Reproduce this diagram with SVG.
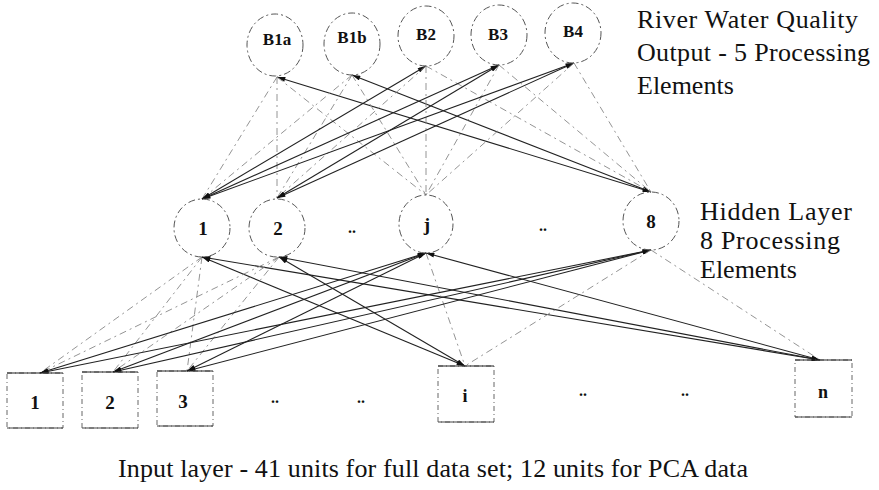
<svg xmlns="http://www.w3.org/2000/svg" width="879" height="490" viewBox="0 0 879 490">
<defs>
<marker id="ah" viewBox="0 0 10 6" refX="10" refY="3" markerWidth="9" markerHeight="5" markerUnits="userSpaceOnUse" orient="auto-start-reverse">
<path d="M0,0 L10,3 L0,6 z" fill="#111"/>
</marker>
<style>
.bg{fill:#fff}
.node{fill:none;stroke:#555;stroke-width:1;stroke-dasharray:7 3 2 3}
.box{fill:none;stroke:#666;stroke-width:1;stroke-dasharray:5 3 1 3}
.edge{stroke:#222;stroke-width:1.1;fill:none}
.solid{marker-start:url(#ah);marker-end:url(#ah)}
.dash{stroke:#888;stroke-width:0.9;stroke-dasharray:7 4 2 4}
.lbl{font-family:"Liberation Serif","Times New Roman",serif;font-size:26px;fill:#111}
.nt{font-family:"Liberation Serif","Times New Roman",serif;font-weight:bold;fill:#111;text-anchor:middle}
</style>
</defs>
<rect class="bg" x="0" y="0" width="879" height="490"/>
<g id="connectors">
<line class="edge solid" x1="277" y1="77" x2="651" y2="192"/>
<line class="edge solid" x1="352" y1="75" x2="651" y2="192"/>
<line class="edge dash" x1="277" y1="77" x2="202" y2="199"/>
<line class="edge dash" x1="277" y1="77" x2="277" y2="198"/>
<line class="edge dash" x1="277" y1="77" x2="426" y2="195"/>
<line class="edge dash" x1="352" y1="75" x2="202" y2="199"/>
<line class="edge dash" x1="352" y1="75" x2="277" y2="198"/>
<line class="edge dash" x1="352" y1="75" x2="426" y2="195"/>
<line class="edge solid" x1="426" y1="66" x2="202" y2="199"/>
<line class="edge dash" x1="426" y1="66" x2="277" y2="198"/>
<line class="edge dash" x1="426" y1="66" x2="426" y2="195"/>
<line class="edge dash" x1="426" y1="66" x2="651" y2="192"/>
<line class="edge solid" x1="499" y1="65" x2="202" y2="199"/>
<line class="edge solid" x1="499" y1="65" x2="277" y2="198"/>
<line class="edge dash" x1="499" y1="65" x2="426" y2="195"/>
<line class="edge dash" x1="499" y1="65" x2="651" y2="192"/>
<line class="edge solid" x1="574" y1="63" x2="202" y2="199"/>
<line class="edge solid" x1="574" y1="63" x2="277" y2="198"/>
<line class="edge dash" x1="574" y1="63" x2="426" y2="195"/>
<line class="edge dash" x1="574" y1="63" x2="651" y2="192"/>
<line class="edge dash" x1="202" y1="257" x2="40" y2="373"/>
<line class="edge dash" x1="202" y1="257" x2="113" y2="372"/>
<line class="edge dash" x1="202" y1="257" x2="187" y2="371"/>
<line class="edge solid" x1="202" y1="257" x2="465" y2="366"/>
<line class="edge solid" x1="202" y1="257" x2="820" y2="360"/>
<line class="edge dash" x1="279" y1="257" x2="40" y2="373"/>
<line class="edge dash" x1="279" y1="257" x2="113" y2="372"/>
<line class="edge dash" x1="279" y1="257" x2="187" y2="371"/>
<line class="edge solid" x1="279" y1="257" x2="465" y2="366"/>
<line class="edge solid" x1="279" y1="257" x2="820" y2="360"/>
<line class="edge solid" x1="426" y1="253" x2="40" y2="373"/>
<line class="edge solid" x1="426" y1="253" x2="113" y2="372"/>
<line class="edge solid" x1="426" y1="253" x2="187" y2="371"/>
<line class="edge dash" x1="426" y1="253" x2="465" y2="366"/>
<line class="edge solid" x1="426" y1="253" x2="820" y2="360"/>
<line class="edge solid" x1="651" y1="250" x2="40" y2="373"/>
<line class="edge solid" x1="651" y1="250" x2="113" y2="372"/>
<line class="edge solid" x1="651" y1="250" x2="187" y2="371"/>
<line class="edge dash" x1="651" y1="250" x2="465" y2="366"/>
<line class="edge dash" x1="651" y1="250" x2="820" y2="360"/>
</g>
<g id="out-B1a"><ellipse class="node" cx="275" cy="45" rx="28" ry="31"/><text class="nt" x="277" y="45" font-size="17">B1a</text></g>
<g id="out-B1b"><ellipse class="node" cx="352" cy="44" rx="28" ry="31"/><text class="nt" x="352" y="43" font-size="17">B1b</text></g>
<g id="out-B2"><ellipse class="node" cx="426" cy="36" rx="28" ry="30"/><text class="nt" x="426" y="40" font-size="17">B2</text></g>
<g id="out-B3"><ellipse class="node" cx="499" cy="35" rx="28" ry="30"/><text class="nt" x="498" y="40" font-size="17">B3</text></g>
<g id="out-B4"><ellipse class="node" cx="573" cy="33" rx="28" ry="30"/><text class="nt" x="573" y="37" font-size="17">B4</text></g>
<g id="hid-1"><ellipse class="node" cx="202" cy="228" rx="28" ry="29"/><text class="nt" x="203" y="235" font-size="19">1</text></g>
<g id="hid-2"><ellipse class="node" cx="277" cy="228" rx="28" ry="29"/><text class="nt" x="278" y="235" font-size="19">2</text></g>
<g id="hid-j"><ellipse class="node" cx="426" cy="224" rx="27" ry="29"/><text class="nt" x="427" y="231" font-size="19">j</text></g>
<g id="hid-8"><ellipse class="node" cx="651" cy="221" rx="28" ry="29"/><text class="nt" x="651" y="228" font-size="19">8</text></g>
<g id="in-1"><rect class="box" x="7" y="373" width="56" height="55"/><line x1="7" y1="373" x2="63" y2="373" stroke="#222"/><line x1="7" y1="428" x2="63" y2="428" stroke="#444"/><text class="nt" x="35" y="409" font-size="19">1</text></g>
<g id="in-2"><rect class="box" x="82" y="372" width="56" height="56"/><line x1="82" y1="372" x2="138" y2="372" stroke="#222"/><line x1="82" y1="428" x2="138" y2="428" stroke="#444"/><text class="nt" x="110" y="409" font-size="19">2</text></g>
<g id="in-3"><rect class="box" x="157" y="371" width="56" height="55"/><line x1="157" y1="371" x2="213" y2="371" stroke="#222"/><line x1="157" y1="426" x2="213" y2="426" stroke="#444"/><text class="nt" x="183" y="408" font-size="19">3</text></g>
<g id="in-i"><rect class="box" x="438" y="366" width="56" height="56"/><line x1="438" y1="366" x2="494" y2="366" stroke="#222"/><line x1="438" y1="422" x2="494" y2="422" stroke="#444"/><text class="nt" x="465" y="402" font-size="18">i</text></g>
<g id="in-n"><rect class="box" x="795" y="360" width="57" height="57"/><line x1="795" y1="360" x2="852" y2="360" stroke="#222"/><line x1="795" y1="417" x2="852" y2="417" stroke="#444"/><text class="nt" x="823" y="398" font-size="18">n</text></g>
<g id="dots">
<text class="nt" x="352" y="233" font-size="16">..</text>
<text class="nt" x="543" y="231" font-size="16">..</text>
<text class="nt" x="275" y="403" font-size="16">..</text>
<text class="nt" x="361" y="403" font-size="16">..</text>
<text class="nt" x="583" y="396" font-size="16">..</text>
<text class="nt" x="685" y="396" font-size="16">..</text>
</g>
<g id="labels">
<text class="lbl" x="637" y="28" textLength="221">River Water Quality</text>
<text class="lbl" x="637" y="61" textLength="233">Output - 5 Processing</text>
<text class="lbl" x="637" y="94">Elements</text>
<text class="lbl" x="700" y="220" textLength="152">Hidden Layer</text>
<text class="lbl" x="700" y="249" textLength="140">8 Processing</text>
<text class="lbl" x="700" y="278">Elements</text>
<text class="lbl" x="118" y="477" textLength="630">Input layer - 41 units for full data set; 12 units for PCA data</text>
</g>
</svg>
